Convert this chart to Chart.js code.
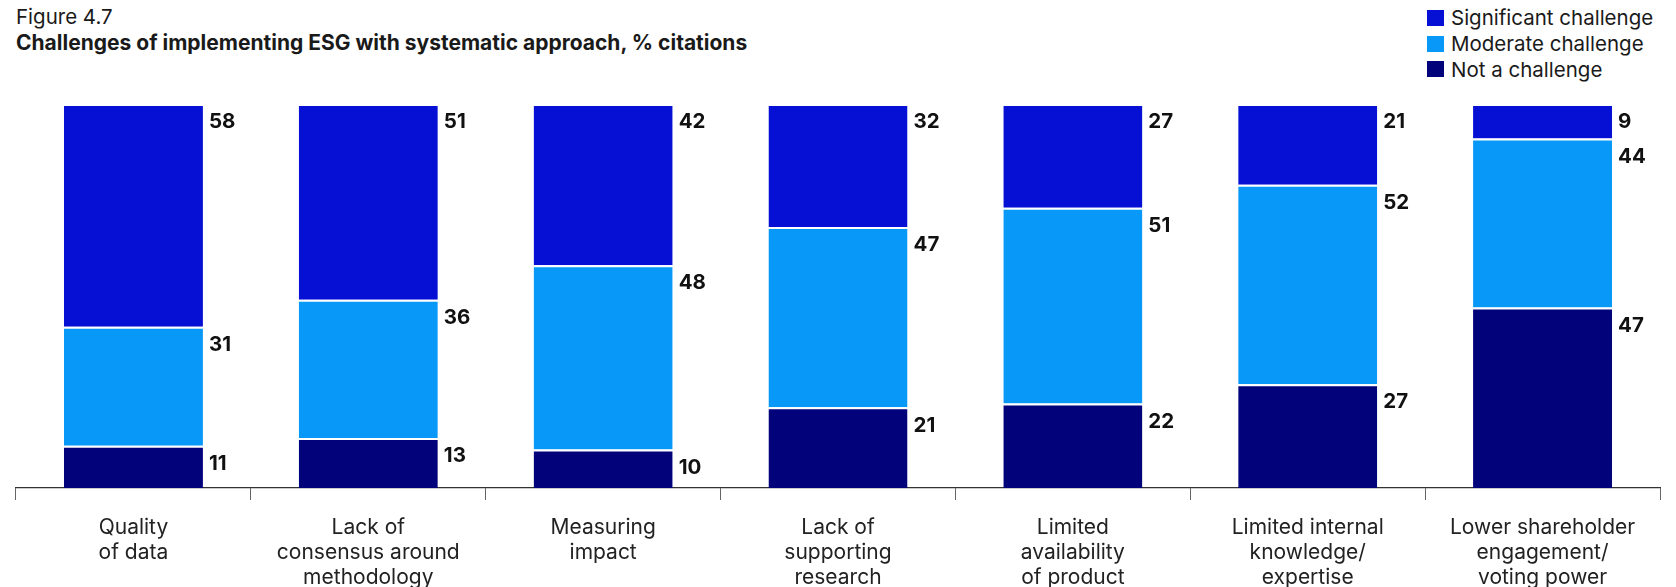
<!DOCTYPE html>
<html>
<head>
<meta charset="utf-8">
<script src="https://cdn.jsdelivr.net/npm/chart.js@4"></script>
<style>
  html, body { margin: 0; padding: 0; background: #fff; }
  body { width: 1676px; height: 587px; position: relative; overflow: hidden; font-family: Inter, "Noto Sans", sans-serif; color: #1a1a1a; }
  .fig { position: absolute; left: 16px; top: 4px; font-size: 20.5px; line-height: 25px; }
  .title { position: absolute; left: 16px; top: 30px; font-size: 21px; line-height: 26px; font-weight: 700; }
  .legend { position: absolute; left: 1427px; top: 5px; font-size: 20.5px; }
  .legend div { height: 25.8px; display: flex; align-items: center; }
  .legend span { display: inline-block; width: 17px; height: 16px; margin-right: 7px; }
  canvas { position: absolute; left: 0; top: 0; }
</style>
</head>
<body>
<div class="fig">Figure 4.7</div>
<div class="title">Challenges of implementing ESG with systematic approach, % citations</div>
<div class="legend" id="legend"></div>
<canvas id="chart" width="1676" height="587"></canvas>
<script>
const categories = [
  ["Quality", "of data"],
  ["Lack of", "consensus around", "methodology"],
  ["Measuring", "impact"],
  ["Lack of", "supporting", "research"],
  ["Limited", "availability", "of product"],
  ["Limited internal", "knowledge/", "expertise"],
  ["Lower shareholder", "engagement/", "voting power"]
];
const notChallenge = [11, 13, 10, 21, 22, 27, 47];
const moderate = [31, 36, 48, 47, 51, 52, 44];
const significant = [58, 51, 42, 32, 27, 21, 9];

const colors = {
  significant: "#0610d4",
  moderate: "#0899f8",
  not: "#02027a"
};

// legend, top to bottom
const legendItems = [
  ["Significant challenge", colors.significant],
  ["Moderate challenge", colors.moderate],
  ["Not a challenge", colors.not]
];
const legendEl = document.getElementById("legend");
for (const [txt, col] of legendItems) {
  const row = document.createElement("div");
  row.innerHTML = `<span style="background:${col}"></span>${txt}`;
  legendEl.appendChild(row);
}

// numbers to the right of each segment, near its top
const valueLabels = {
  id: "valueLabels",
  afterDatasetsDraw(chart) {
    const ctx = chart.ctx;
    const yScale = chart.scales.y;
    ctx.save();
    ctx.font = "bold 20.5px Inter, 'Noto Sans', sans-serif";
    ctx.fillStyle = "#111";
    ctx.textBaseline = "middle";
    ctx.textAlign = "left";
    chart.data.datasets.forEach((ds, i) => {
      const meta = chart.getDatasetMeta(i);
      meta.data.forEach((bar, j) => {
        let top = 0;
        for (let k = 0; k <= i; k++) top += chart.data.datasets[k].data[j];
        const x = bar.x + bar.width / 2 + 6;
        ctx.fillText(ds.data[j], x, yScale.getPixelForValue(top) + 18);
      });
    });
    ctx.restore();
  }
};

new Chart(document.getElementById("chart").getContext("2d"), {
  type: "bar",
  data: {
    labels: categories,
    datasets: [
      { label: "Not a challenge", data: notChallenge, backgroundColor: colors.not },
      { label: "Moderate challenge", data: moderate, backgroundColor: colors.moderate },
      { label: "Significant challenge", data: significant, backgroundColor: colors.significant }
    ].map((d) => ({
      ...d,
      borderColor: "#ffffff",
      borderWidth: { top: 2, bottom: 0, left: 0, right: 0 },
      borderSkipped: false,
      categoryPercentage: 0.592,
      barPercentage: 1
    }))
  },
  options: {
    responsive: false,
    animation: false,
    layout: { padding: { top: 104, left: 16, right: 16, bottom: 0 } },
    plugins: {
      legend: { display: false },
      tooltip: { enabled: false }
    },
    scales: {
      x: {
        stacked: true,
        afterFit: (scale) => { scale.height = 99; },
        grid: {
          display: true,
          drawOnChartArea: false,
          drawTicks: true,
          tickLength: 12,
          color: "#666",
          offset: true
        },
        border: { display: true, color: "#333", width: 1.2 },
        ticks: {
          autoSkip: false,
          maxRotation: 0,
          padding: 15,
          color: "#222",
          font: { family: "Inter, 'Noto Sans', sans-serif", size: 21, lineHeight: 1.2 }
        }
      },
      y: {
        stacked: true,
        display: false,
        min: 0,
        max: 100
      }
    }
  },
  plugins: [valueLabels]
});
</script>
</body>
</html>
